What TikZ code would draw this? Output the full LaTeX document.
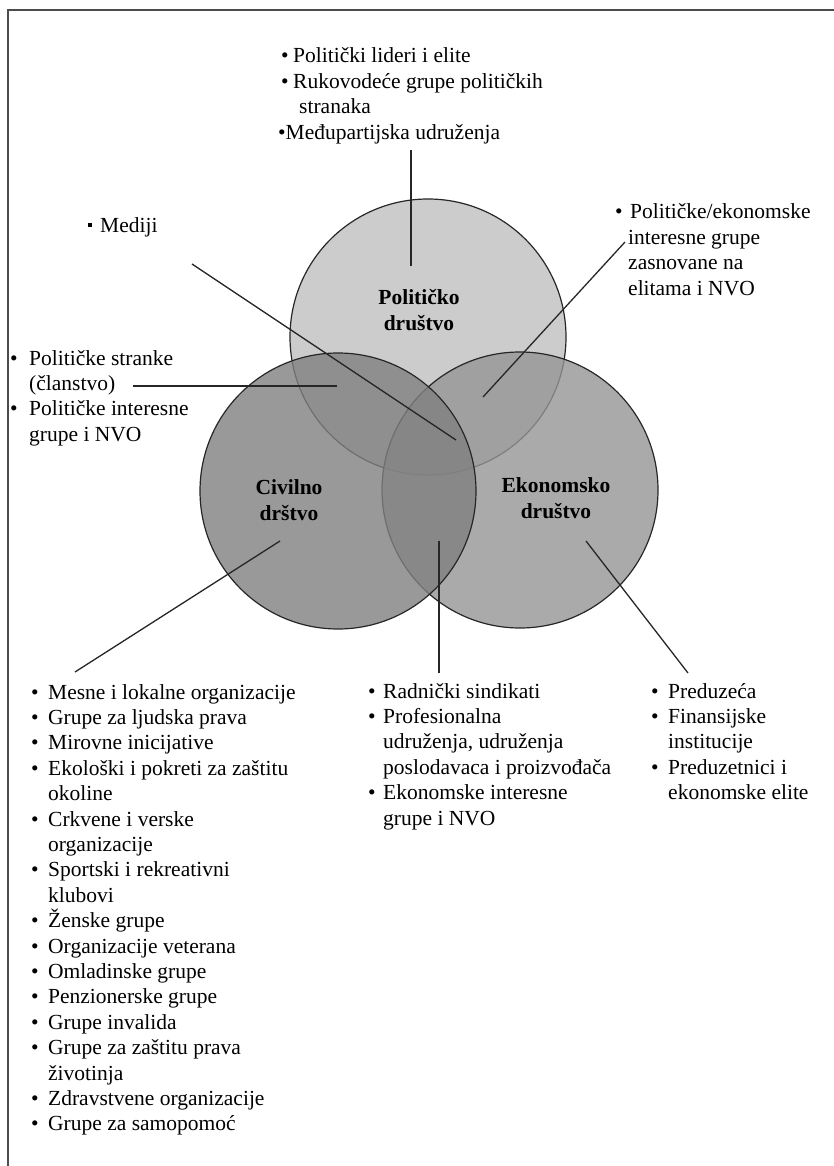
\documentclass[tikz,border=0pt]{standalone}
\usepackage{fontspec}
\setmainfont{Liberation Serif}
\usetikzlibrary{shapes,arrows,positioning}

\definecolor{polgray}{gray}{0.80}
\definecolor{ekogray}{gray}{0.585}
\definecolor{civgray}{gray}{0.50}
\newcommand{\listfont}{\fontsize{21.5}{25.4}\selectfont}
\newcommand{\bul}[1][15pt]{\makebox[#1][l]{•}}
\newcommand{\lst}[1]{\parbox[t]{480pt}{#1}}

\begin{document}
\begin{tikzpicture}[x=1pt,y=-1pt]

  \tikzset{sphere/.style={circle, draw=black!85, line width=1.2pt,
  		minimum size=276pt, inner sep=0pt}, }
  \tikzset{main label/.style={font=\listfont\bfseries, align=center}, }
  \tikzset{main list/.style={anchor=base west, inner sep=0pt, font=\listfont}, }
  \tikzset{linea/.style={draw=black!85, line width=1.3pt}, }
  \useasboundingbox (0,0) rectangle (834,1166);
  \draw[line width=2pt, black!70] (8,1166) -- (8,10) -- (834,10);

    \node[sphere, fill=polgray] (1) at (428,337) {};
    \node[sphere, fill=ekogray, fill opacity=0.8] (3) at (520,490) {};
    \node[sphere, fill=civgray, fill opacity=0.8] (2) at (338,491) {};

    \node[main label] (4) at (419,310) {Političko\\društvo};
    \node[main label] (5) at (289,500) {Civilno\\drštvo};
    \node[main label] (6) at (556,498) {Ekonomsko\\društvo};

    \node[main list] (7) at (281,63) {\lst{%
      \bul[12pt]Politički lideri i elite\\
      \bul[12pt]Rukovodeće grupe političkih\\
      \hspace*{18pt}stranaka\\
      \hspace*{-3pt}•Međupartijska udruženja}};
    \node[main list] (8) at (88,233) {\raisebox{6pt}{\rule{4pt}{4pt}}\hspace{8pt}Mediji};
    \node[main list] (9) at (615,219) {\lst{%
      \bul Političke/ekonomske\\
      \hspace*{13pt}interesne grupe\\
      \hspace*{13pt}zasnovane na\\
      \hspace*{13pt}elitama i NVO}};
    \node[main list] (10) at (10,365) {\lst{%
      \bul[19pt]Političke stranke\\
      \hspace*{19pt}(članstvo)\\
      \bul[19pt]Političke interesne\\
      \hspace*{19pt}grupe i NVO}};
    \node[main list] (11) at (31,699) {\lst{%
      \bul[17pt]Mesne i lokalne organizacije\\
      \bul[17pt]Grupe za ljudska prava\\
      \bul[17pt]Mirovne inicijative\\
      \bul[17pt]Ekološki i pokreti za zaštitu\\
      \hspace*{17pt}okoline\\
      \bul[17pt]Crkvene i verske\\
      \hspace*{17pt}organizacije\\
      \bul[17pt]Sportski i rekreativni\\
      \hspace*{17pt}klubovi\\
      \bul[17pt]Ženske grupe\\
      \bul[17pt]Organizacije veterana\\
      \bul[17pt]Omladinske grupe\\
      \bul[17pt]Penzionerske grupe\\
      \bul[17pt]Grupe invalida\\
      \bul[17pt]Grupe za zaštitu prava\\
      \hspace*{17pt}životinja\\
      \bul[17pt]Zdravstvene organizacije\\
      \bul[17pt]Grupe za samopomoć}};
    \node[main list] (12) at (368,698) {\lst{%
      \bul Radnički sindikati\\
      \bul Profesionalna\\
      \hspace*{15pt}udruženja, udruženja\\
      \hspace*{15pt}poslodavaca i proizvođača\\
      \bul Ekonomske interesne\\
      \hspace*{15pt}grupe i NVO}};
    \node[main list] (13) at (651,698) {\lst{%
      \bul[17pt]Preduzeća\\
      \bul[17pt]Finansijske\\
      \hspace*{17pt}institucije\\
      \bul[17pt]Preduzetnici i\\
      \hspace*{17pt}ekonomske elite}};

    % ends of the pointer lines
    \coordinate (a7) at (411,266);  \coordinate (b7) at (411,150);
    \coordinate (a8) at (456,440);  \coordinate (b8) at (192,264);
    \coordinate (a9) at (483,397);  \coordinate (b9) at (625,242);
    \coordinate (a10) at (337,386); \coordinate (b10) at (133,386);
    \coordinate (a11) at (280,541); \coordinate (b11) at (75,672);
    \coordinate (a12) at (439,541); \coordinate (b12) at (439,673);
    \coordinate (a13) at (586,541); \coordinate (b13) at (688,673);

\foreach \x in {7,...,13}
  \path[linea] (a\x) edge (b\x);
%%
\end{tikzpicture}
\end{document}
